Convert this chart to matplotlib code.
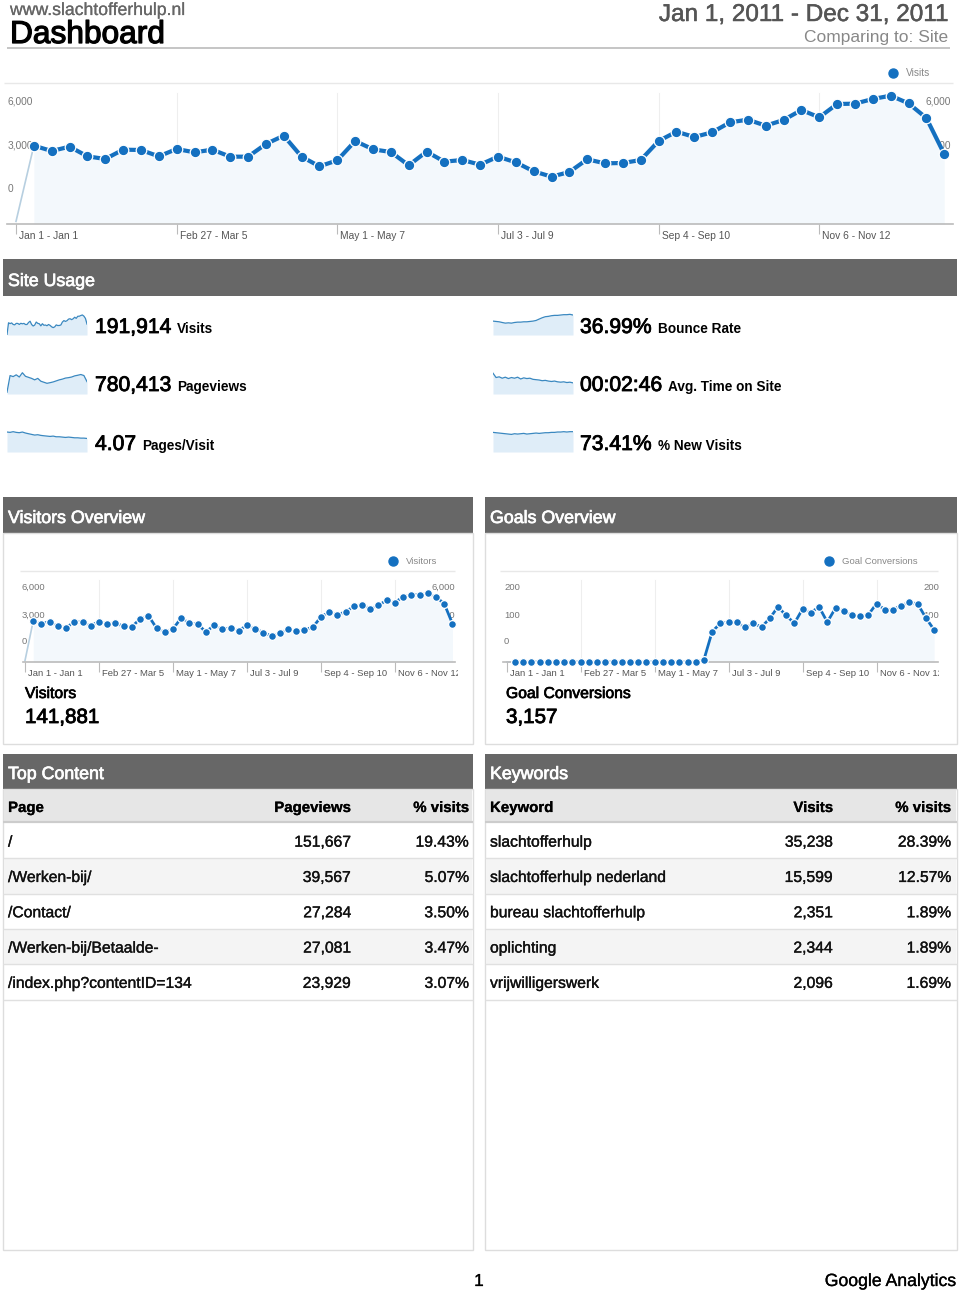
import numpy as np
import matplotlib
matplotlib.use('Agg')
import matplotlib.pyplot as plt
import matplotlib.patheffects as pe
from matplotlib.patches import Rectangle

plt.rcParams['font.family'] = ['Liberation Sans', 'DejaVu Sans']

W, H = 960, 1292
BLUE = '#1470c0'

# ---------------- data (weekly, 2011; index 0 is the single day Jan 1)
week_ticks = [0, 9, 18, 27, 36, 45]
week_labels = ['Jan 1 - Jan 1', 'Feb 27 - Mar 5', 'May 1 - May 7',
               'Jul 3 - Jul 9', 'Sep 4 - Sep 10', 'Nov 6 - Nov 12']

visits = [120, 3611, 3365, 3565, 3119, 2997, 3427, 3411, 3119, 3458, 3304,
          3427, 3104, 3104, 3688, 4072, 3104, 2658, 2935, 3826, 3442, 3319,
          2705, 3335, 2874, 2950, 2735, 3104, 2843, 2428, 2182, 2397, 2981,
          2797, 2812, 2950, 3826, 4256, 4011, 4226, 4687, 4810, 4533, 4794,
          5255, 4917, 5532, 5547, 5763, 5916, 5563, 4887, 3227]

visitors = [90, 2624, 2453, 2581, 2304, 2197, 2560, 2560, 2325, 2581, 2453,
            2496, 2282, 2261, 2752, 2965, 2176, 1920, 2112, 2816, 2474,
            2432, 1920, 2346, 2112, 2176, 2005, 2346, 2133, 1877, 1664,
            1834, 2090, 1962, 2069, 2218, 2880, 3200, 3029, 3200, 3562,
            3669, 3392, 3626, 3946, 3797, 4181, 4287, 4309, 4394, 4159,
            3733, 2453]

goal_conv = [0] * 24 + [6, 74, 94, 97, 97, 84, 94, 85, 106, 134, 113, 94, 129,
                        120, 134, 97, 131, 125, 113, 111, 115, 142, 127, 127,
                        137, 145, 141, 107, 78]

# site usage (sparklines are two-week points)
usage_names = ['Visits', 'Pageviews', 'Pages/Visit',
               'Bounce Rate', 'Avg. Time on Site', '% New Visits']
usage_values = ['191,914', '780,413', '4.07', '36.99%', '00:02:46', '73.41%']
spark_pageviews = [1700, 17600, 16600, 18300, 16200, 20300, 16900, 15900, 14900,
                   13500, 14900, 12200, 11200, 10200, 10800, 11500, 12500, 13500,
                   14200, 15200, 15600, 16200, 17300, 17900, 18600, 17600, 11800]
spark_pages_visit = [4.81, 4.73, 4.89, 4.73, 4.65, 4.81, 4.57, 4.40, 4.24, 4.08,
                     4.16, 4.00, 3.91, 3.83, 3.75, 3.83, 3.67, 3.67, 3.59, 3.51,
                     3.59, 3.51, 3.42, 3.42, 3.34, 3.34, 3.26]
spark_bounce = [32.2, 31.4, 30.6, 29.0, 27.5, 28.2, 27.5, 29.0, 29.8, 29.8, 30.6,
                30.6, 31.4, 32.2, 33.7, 36.9, 40.0, 42.4, 43.2, 44.7, 45.5, 45.5,
                46.3, 47.1, 47.1, 47.9, 46.3]
spark_time = [241, 191, 199, 183, 195, 179, 191, 183, 195, 174, 187, 179, 183,
              170, 166, 162, 154, 158, 150, 145, 150, 141, 137, 141, 133, 137, 129]
spark_new = [75.8, 74.5, 73.2, 71.9, 70.6, 69.3, 68.0, 70.6, 69.3, 70.6, 71.9,
             69.3, 70.6, 71.9, 73.2, 71.9, 73.2, 74.5, 74.5, 75.8, 75.8, 77.2,
             77.2, 78.5, 77.2, 78.5, 78.5]

content_pages = ['/', '/Werken-bij/', '/Contact/', '/Werken-bij/Betaalde-',
                 '/index.php?contentID=134']
content_views = ['151,667', '39,567', '27,284', '27,081', '23,929']
content_pct = ['19.43%', '5.07%', '3.50%', '3.47%', '3.07%']

kw_names = ['slachtofferhulp', 'slachtofferhulp nederland',
            'bureau slachtofferhulp', 'oplichting', 'vrijwilligerswerk']
kw_visits = ['35,238', '15,599', '2,351', '2,344', '2,096']
kw_pct = ['28.39%', '12.57%', '1.89%', '1.89%', '1.69%']

# ---------------- canvas
fig = plt.figure(figsize=(W / 100, H / 100), dpi=100)
bg = fig.add_axes([0, 0, 1, 1])
bg.set_xlim(0, W)
bg.set_ylim(H, 0)
bg.axis('off')


def txt(x, y, s, size, color='black', heavy=0.45, **kw):
    # Helvetica in the original renders heavier than Liberation Sans
    kw.setdefault('va', 'baseline')
    effects = [pe.withStroke(linewidth=heavy, foreground=color)] if heavy else []
    return bg.text(x, y, s, fontsize=size, color=color, path_effects=effects,
                   **kw)


def rect(x0, y0, x1, y1, **kw):
    bg.add_patch(Rectangle((x0, y0), x1 - x0, y1 - y0, **kw))


def sub(x0, y0, x1, y1):
    ax = fig.add_axes([x0 / W, 1 - y1 / H, (x1 - x0) / W, (y1 - y0) / H])
    ax.set_facecolor('none')
    return ax


def bar(x0, y0, x1, y1, title):
    rect(x0, y0, x1, y1, color='#676767', lw=0)
    txt(x0 + 5, y1 - 10, title, 12.8, color='white', heavy=0.5)


def trend(box, x_first, step, vals, ymax, ylabs, ylab_y, ylab_x, grid_top,
          ms, lw, fs_tick, fs_y, legend, leg_xy, clip_x):
    x0, y0, x1, y1 = box
    ax = sub(x0, y0, x1, y1)
    ax.set_xlim((x0 - x_first) / step, (x1 - x_first) / step)
    ax.set_ylim(0, ymax)
    idx = np.arange(len(vals))
    v = np.array(vals, dtype=float)
    ax.fill_between(idx[1:], v[1:], color='#f3f8fc', lw=0, zorder=1)
    for t in week_ticks[1:]:
        ax.axvline(t, ymax=grid_top, color='#eeeeee', lw=0.8, zorder=0)
    ax.plot(idx[:2], v[:2], color='#b7cfe0', lw=1.2, zorder=2, clip_on=False)
    ax.plot(idx[1:], v[1:], color=BLUE, lw=lw, marker='o', ms=ms, mfc=BLUE,
            mec='white', mew=0.9, zorder=3, clip_on=False)
    for s in ['top', 'left', 'right']:
        ax.spines[s].set_visible(False)
    ax.spines['bottom'].set_color('#bbbbbb')
    ax.spines['bottom'].set_linewidth(1.2)
    ax.set_yticks([])
    ax.set_xticks(week_ticks)
    ax.set_xticklabels([])
    ax.tick_params(axis='x', length=7, width=0.8, color='#bbbbbb')
    clip = Rectangle((x0 - 10, y1), clip_x - x0 + 10, 30, transform=bg.transData)
    for t, lab in zip(week_ticks, week_labels):
        a = ax.annotate(lab, (t, 0), xycoords=('data', 'axes fraction'),
                        xytext=(3, -7), textcoords='offset pixels', ha='left',
                        va='top', fontsize=fs_tick, color='#555555')
        a.set_clip_path(clip)
    bg.hlines(y0, x0 - 3, x1, color='#e8e8e8', lw=1)
    for lab, yy in zip(ylabs, ylab_y):
        for xx in ylab_x:
            bg.text(xx, yy, lab, fontsize=fs_y, color='#777777', va='center')
    bg.plot([leg_xy[0]], [leg_xy[1]], 'o', color=BLUE, ms=6.5)
    bg.text(leg_xy[0] + 13, leg_xy[1], legend, fontsize=fs_y, color='#888888',
            va='center')
    return ax


# ---------------- page header
txt(10, 15, 'www.slachtofferhulp.nl', 12.7, color='#666666', heavy=0.15)
txt(10, 43, 'Dashboard', 22.8, heavy=0.9)
txt(948, 21, 'Jan 1, 2011 - Dec 31, 2011', 17.5, color='#555555', heavy=0.35,
    ha='right')
txt(948, 42, 'Comparing to: Site', 12.5, color='#888888', heavy=0, ha='right')
bg.hlines(48, 7, 950, color='#bbbbbb', lw=1.2)

# ---------------- main visits chart
trend((7, 83, 953, 224), 16, 17.85, visits, 6500, ['6,000', '3,000', '0'],
      [101, 145, 189], [8, 926], 0.93, 7.6, 3.0, 7.4, 7.3, 'Visits', (893, 73),
      953)

# ---------------- site usage
bar(3, 259, 957, 296, 'Site Usage')
spark_sets = [(visits, 6500), (spark_pageviews, 21000), (spark_pages_visit, 5.3),
              (spark_bounce, 51), (spark_time, 255), (spark_new, 85)]
rend = fig.canvas.get_renderer()
for k, (vals, top) in enumerate(spark_sets):
    col, row = divmod(k, 3)
    sx = 7 if col == 0 else 493
    nx = 95 if col == 0 else 580
    sy = [313, 372, 430][row]
    base = [333, 391, 450][row]
    ax = sub(sx, sy, sx + 80, sy + 22)
    i = np.arange(len(vals))
    ax.fill_between(i, vals, color='#dfedf8', lw=0)
    ax.plot(i, vals, color='#3a88c0', lw=0.9)
    ax.set_xlim(0, len(vals) - 1)
    ax.set_ylim(0, top)
    ax.axis('off')
    t = txt(nx, base, usage_values[k], 15.2, heavy=0.6)
    ext = t.get_window_extent(rend)
    txt(ext.x1 + 6, base, usage_names[k], 9.8, weight='bold', heavy=0)

# ---------------- visitors / goals overview
for x0, x1, title in [(3, 473, 'Visitors Overview'), (485, 957, 'Goals Overview')]:
    bar(x0, 497, x1, 533, title)
    rect(x0, 533, x1, 744, fill=False, ec='#dddddd', lw=1)

trend((23, 571, 455, 662), 25, 8.22, visitors, 5820, ['6,000', '3,000', '0'],
      [587, 615, 642], [22, 432], 0.9, 5.6, 2.0, 6.8, 6.8, 'Visitors',
      (393, 561), 458)
txt(25, 698, 'Visitors', 11.3, heavy=0.5)
txt(25, 723, '141,881', 14.8, heavy=0.6)

trend((503, 571, 938, 662), 506.7, 8.22, goal_conv, 221, ['200', '100', '0'],
      [587, 615, 642], [504, 923], 0.9, 5.6, 2.0, 6.8, 6.8, 'Goal Conversions',
      (829, 561), 939)
txt(506, 698, 'Goal Conversions', 11.3, heavy=0.5)
txt(506, 723, '3,157', 14.8, heavy=0.6)


# ---------------- tables
def table(x0, x1, title, heads, c1, c2, c3, rx):
    bar(x0, 754, x1, 789, title)
    rect(x0, 789, x1, 1250, fill=False, ec='#dddddd', lw=1)
    rect(x0 + 1, 790, x1 - 1, 822, color='#e6e6e6', lw=0)
    bg.hlines(822, x0, x1, color='#cccccc', lw=1.6)
    txt(x0 + 5, 812, heads[0], 10.8, weight='bold', heavy=0.15)
    txt(rx[0], 812, heads[1], 10.8, weight='bold', heavy=0.15, ha='right')
    txt(rx[1], 812, heads[2], 10.8, weight='bold', heavy=0.15, ha='right')
    rh = 35.3
    for r in range(len(c1)):
        ya = 823 + r * rh
        if r % 2:
            rect(x0 + 1, ya, x1 - 1, ya + rh, color='#f4f4f4', lw=0)
        bg.hlines(ya + rh, x0, x1, color='#e0e0e0', lw=1)
        yb = ya + rh / 2 + 6
        txt(x0 + 5, yb, c1[r], 11.3, color='#111111', heavy=0.25)
        txt(rx[0], yb, c2[r], 11.3, color='#111111', heavy=0.25, ha='right')
        txt(rx[1], yb, c3[r], 11.3, color='#111111', heavy=0.25, ha='right')


table(3, 473, 'Top Content', ['Page', 'Pageviews', '% visits'],
      content_pages, content_views, content_pct, (351, 469))
table(485, 957, 'Keywords', ['Keyword', 'Visits', '% visits'],
      kw_names, kw_visits, kw_pct, (833, 951))

# ---------------- footer
txt(479, 1286, '1', 12.5, ha='center', heavy=0.2)
txt(956, 1286, 'Google Analytics', 12.7, ha='right', heavy=0.2)

fig.savefig('out.png', dpi=100)
